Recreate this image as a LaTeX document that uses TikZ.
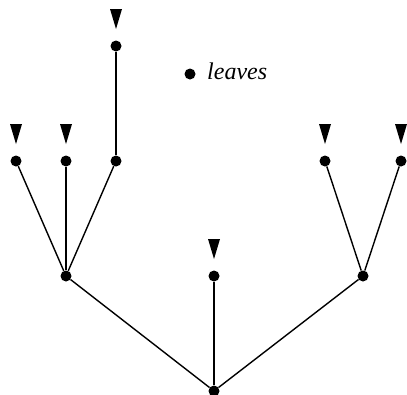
\documentclass[tikz,border=0pt]{standalone}
\usepackage{fontspec}
\setmainfont{Liberation Serif}
\newcommand{\leafmark}[1]{\fill ([shift={(-6,-37)}]#1.center) -- ([shift={(6,-37)}]#1.center) -- ([shift={(0,-17)}]#1.center) -- cycle;}
\begin{document}
\begin{tikzpicture}[x=1pt,y=-1pt,
  dot/.style={circle,fill=black,inner sep=0pt,minimum size=11pt},
  edge/.style={draw=black,line width=1.4pt}]
\useasboundingbox (0,0) rectangle (407,394);
\node[dot] (root) at (214,391) {};
\node[dot] (L) at (66,276) {};
\node[dot] (M) at (214,276) {};
\node[dot] (R) at (363,276) {};
\node[dot] (L1) at (16,161) {};
\node[dot] (L2) at (66,161) {};
\node[dot] (L3) at (116,161) {};
\node[dot] (T) at (116,46) {};
\node[dot] (R1) at (325,161) {};
\node[dot] (R2) at (401,161) {};
\node[dot] (key) at (190,74) {};
\node[anchor=west,font=\itshape\fontsize{24}{28}\selectfont,inner sep=0pt] (keytext) at (207,71) {leaves};
\draw[edge] (root) -- (L);
\draw[edge] (root) -- (M);
\draw[edge] (root) -- (R);
\draw[edge] (L) -- (L1);
\draw[edge] (L) -- (L2);
\draw[edge] (L) -- (L3);
\draw[edge] (L3) -- (T);
\draw[edge] (R) -- (R1);
\draw[edge] (R) -- (R2);
\leafmark{L1}
\leafmark{L2}
\leafmark{T}
\leafmark{M}
\leafmark{R1}
\leafmark{R2}
\end{tikzpicture}
\end{document}
